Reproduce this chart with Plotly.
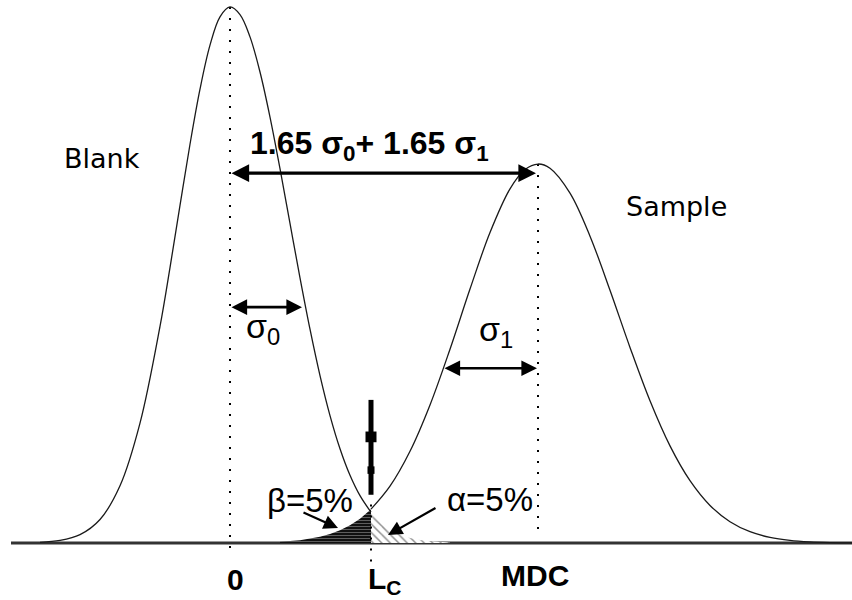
import plotly.graph_objects as go

# ---- data (x: arbitrary signal units, blank mean = 0; y: relative frequency, blank peak = 100)
blank_x = [-19, -17, -15, -13, -11, -9, -7, -6, -5, -4, -3, -2, -1, 0,
           1, 2, 3, 4, 5, 6, 7, 8, 9, 10, 11, 12, 13, 14.1]
blank_y = [0.13, 0.48, 1.56, 4.39, 10.67, 22.36, 40.41, 51.39, 62.98, 74.39, 84.67, 92.87, 98.17, 100,
           98.57, 94.42, 87.87, 79.47, 69.83, 59.62, 49.47, 39.88, 31.24, 23.78, 17.59, 12.64, 8.83, 5.75]

alpha_x = [14.1, 15, 16, 17, 18, 19, 20, 22]
alpha_y = [5.75, 3.95, 2.53, 1.58, 0.95, 0.56, 0.32, 0.10]

beta_x = [5, 7, 9, 10, 11, 12, 13, 14.1]
beta_y = [0.22, 0.53, 1.16, 1.67, 2.38, 3.32, 4.55, 6.32]

sample_x = [14.1, 16, 18, 20, 22, 24, 26, 28, 29.5, 30.8, 32, 34, 36, 38, 40, 42, 44,
            46, 48, 50, 52, 54, 56, 58, 60, 62.2]
sample_y = [6.32, 10.61, 17.12, 25.76, 36.16, 47.38, 57.92, 66.06, 69.67, 70.7, 69.91, 65.26, 57.24,
            47.16, 36.49, 26.53, 18.12, 11.63, 7.01, 3.97, 2.11, 1.06, 0.50, 0.22, 0.09, 0.03]

blank_mean = 0
sample_mean = 30.8
lc = 14.1
blank_peak = 100
sample_peak = 70.7
sigma0_end = 7.2
sigma1_start = 21.3

tick_labels = ["<b>0</b>", "<b>L<sub>C</sub></b>", "<b>MDC</b>"]

BL = "#1a1a1a"
fig = go.Figure()

# baseline
fig.add_trace(go.Scatter(x=[-21.9, 62.2], y=[0, 0], mode="lines",
                         line=dict(color="#333333", width=3), hoverinfo="skip"))

# beta region (sample below Lc)
fig.add_trace(go.Scatter(x=beta_x, y=beta_y, mode="lines", fill="tozeroy",
                         line=dict(width=0, color="black"),
                         fillpattern=dict(shape="-", bgcolor="#111111", fgcolor="#dddddd",
                                          size=3, solidity=0.25),
                         hoverinfo="skip"))
# alpha region (blank above Lc)
fig.add_trace(go.Scatter(x=alpha_x, y=alpha_y, mode="lines", fill="tozeroy",
                         line=dict(width=0, color="black"),
                         fillpattern=dict(shape="\\", bgcolor="white", fgcolor="#222222",
                                          size=6, solidity=0.25),
                         hoverinfo="skip"))

# dotted verticals
dot = dict(color="black", width=2, dash="2px,9px")
fig.add_trace(go.Scatter(x=[blank_mean, blank_mean], y=[blank_peak, -1.4], mode="lines", line=dot, hoverinfo="skip"))
fig.add_trace(go.Scatter(x=[sample_mean, sample_mean], y=[sample_peak, 1.0], mode="lines", line=dot, hoverinfo="skip"))
fig.add_trace(go.Scatter(x=[lc, lc], y=[7.2, -3.6], mode="lines", line=dot, hoverinfo="skip"))

# curves
fig.add_trace(go.Scatter(x=blank_x, y=blank_y, mode="lines", line=dict(color=BL, width=1.3, shape="spline"),
                         hoverinfo="skip"))
fig.add_trace(go.Scatter(x=sample_x, y=sample_y, mode="lines", line=dict(color=BL, width=1.3, shape="spline"),
                         hoverinfo="skip"))

# Lc marker glyph (thick bar with two thicker blocks)
fig.add_trace(go.Scatter(x=[lc, lc], y=[26.7, 9.0], mode="lines", line=dict(color="black", width=5),
                         hoverinfo="skip"))
fig.add_trace(go.Scatter(x=[lc, lc], y=[18.8, 20.8], mode="lines", line=dict(color="black", width=11),
                         hoverinfo="skip"))
fig.add_trace(go.Scatter(x=[lc, lc], y=[12.9, 14.3], mode="lines", line=dict(color="black", width=7),
                         hoverinfo="skip"))

def arrow(x0, y0, x1, y1, both=False, w=3, size=1.0):
    fig.add_annotation(x=x1, y=y1, ax=x0, ay=y0, xref="x", yref="y", axref="x", ayref="y",
                       text="", showarrow=True, arrowhead=2, arrowsize=size, arrowwidth=w,
                       arrowcolor="black", arrowside="end+start" if both else "end")

arrow(blank_mean, 69.0, 30.6, 69.0, both=True, w=3.2, size=1.1)
arrow(blank_mean, 44.0, sigma0_end, 44.0, both=True, w=2.6, size=1.2)
arrow(sigma1_start, 32.6, 30.7, 32.6, both=True, w=2.6, size=1.2)
arrow(7.2, 5.8, 10.8, 2.8, w=2.2, size=1.3)
arrow(20.7, 6.7, 15.8, 1.5, w=2.2, size=1.3)

def label(x, y, text, size, family="Liberation Sans, Arial, sans-serif"):
    fig.add_annotation(x=x, y=y, xref="x", yref="y", text=text, showarrow=False,
                       font=dict(size=size, color="black", family=family))

label(-12.8, 71.8, "Blank", 27, "DejaVu Sans, Verdana, sans-serif")
label(44.6, 62.7, "Sample", 27, "DejaVu Sans, Verdana, sans-serif")
label(13.9, 74.2, "<b>1.65 σ<sub>0</sub>+ 1.65 σ<sub>1</sub></b>", 32)
label(3.3, 40.0, "σ<sub>0</sub>", 34)
label(26.6, 39.4, "σ<sub>1</sub>", 34)
label(8.0, 7.9, "β=5%", 33)
label(26.0, 8.2, "α=5%", 33)
label(0.5, -6.8, tick_labels[0], 30)
label(15.5, -7.0, tick_labels[1], 30)
label(30.5, -6.0, tick_labels[2], 30)

fig.update_layout(width=852, height=600, margin=dict(l=0, r=0, t=0, b=0),
                  plot_bgcolor="white", paper_bgcolor="white", showlegend=False)
fig.update_xaxes(range=[-23, 62.2], visible=False)
fig.update_yaxes(range=[-10.63, 101.3], visible=False)

fig.write_html("out.html", config={"displayModeBar": False},
               post_script="document.body.style.margin='0';")
